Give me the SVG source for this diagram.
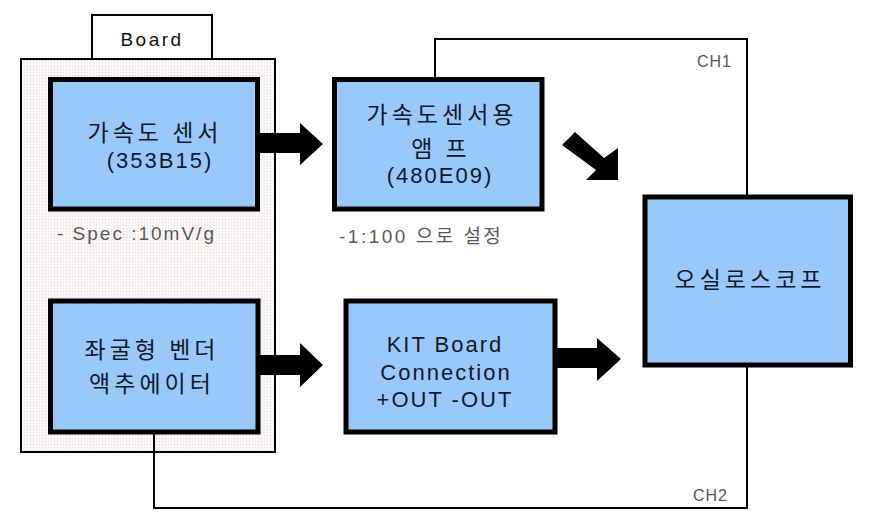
<svg xmlns="http://www.w3.org/2000/svg" width="890" height="516" viewBox="0 0 890 516">
<style>
.box{fill:#99c9fa;stroke:#000;stroke-width:5}
.ln{fill:none;stroke:#000;stroke-width:2}
.arr{fill:#000;stroke:none}
.t{font-family:"Liberation Sans","Noto Sans CJK KR",sans-serif;font-size:22px;fill:#111a2a;text-anchor:middle;letter-spacing:2px}
.k{font-family:"Noto Sans CJK KR","Liberation Sans",sans-serif;font-size:23px;fill:#111a2a;text-anchor:middle;letter-spacing:4px}
.note{font-family:"Liberation Sans","Noto Sans CJK KR",sans-serif;font-size:19px;fill:#5a5a5a;letter-spacing:2px}
.ch{font-family:"Liberation Sans",sans-serif;font-size:16px;fill:#555;letter-spacing:1px}
</style>
<defs>
<pattern id="dots" width="3" height="3" patternUnits="userSpaceOnUse">
<rect width="3" height="3" fill="#faf7f7"/>
<rect width="1" height="1" fill="#e2d6d6"/>
</pattern>
</defs>
<rect width="890" height="516" fill="#fff"/>
<g id="board">
<rect x="21" y="59" width="254" height="393" fill="url(#dots)" stroke="#000" stroke-width="2"/>
<rect x="92" y="15" width="120" height="44" fill="#fff" stroke="#000" stroke-width="2"/>
<text x="152" y="46" class="t" style="font-size:19px;letter-spacing:2.5px;fill:#111">Board</text>
</g>
<g id="connectors">
<polyline class="ln" points="435,79 435,39 747,39 747,197"/>
<polyline class="ln" points="747,365 747,508 154,508 154,432"/>
<polygon class="arr" points="258,133 300,133 300,123 323,144 300,165 300,153 258,153"/>
<polygon class="arr" points="575,132 604,158 618,148 618,180 586,180 596,170 562,145"/>
<polygon class="arr" points="258,355 300,355 300,343 323,365 300,387 300,375 258,375"/>
<polygon class="arr" points="556,348 597,348 597,338 621,359 597,381 597,368 556,368"/>
</g>
<g id="sensor">
<rect class="box" x="50.5" y="79.5" width="207" height="129.5"/>
<text x="155" y="141" class="k">가속도 센서</text>
<text x="160" y="168" class="t">(353B15)</text>
</g>
<text x="57" y="240" class="note">- Spec  :10mV/g</text>
<g id="amp">
<rect class="box" x="334.5" y="79.5" width="207.5" height="129.5"/>
<text x="442" y="123" class="k">가속도센서용</text>
<text x="441" y="157" class="k">앰 프</text>
<text x="440" y="183" class="t">(480E09)</text>
</g>
<text x="339" y="243" class="note" style="letter-spacing:2.5px">-1:100 으로 설정</text>
<g id="scope">
<rect class="box" x="645" y="197" width="205.5" height="168"/>
<text x="750" y="288" class="k">오실로스코프</text>
</g>
<g id="actuator">
<rect class="box" x="50.5" y="301" width="207.5" height="131"/>
<text x="152" y="358" class="k">좌굴형 벤더</text>
<text x="152" y="392" class="k">액추에이터</text>
</g>
<g id="kit">
<rect class="box" x="346" y="301" width="209" height="131"/>
<text x="445" y="352" class="t">KIT Board</text>
<text x="446" y="380" class="t">Connection</text>
<text x="445" y="407" class="t">+OUT -OUT</text>
</g>
<text x="697" y="67" class="ch">CH1</text>
<text x="693" y="501" class="ch">CH2</text>
</svg>
